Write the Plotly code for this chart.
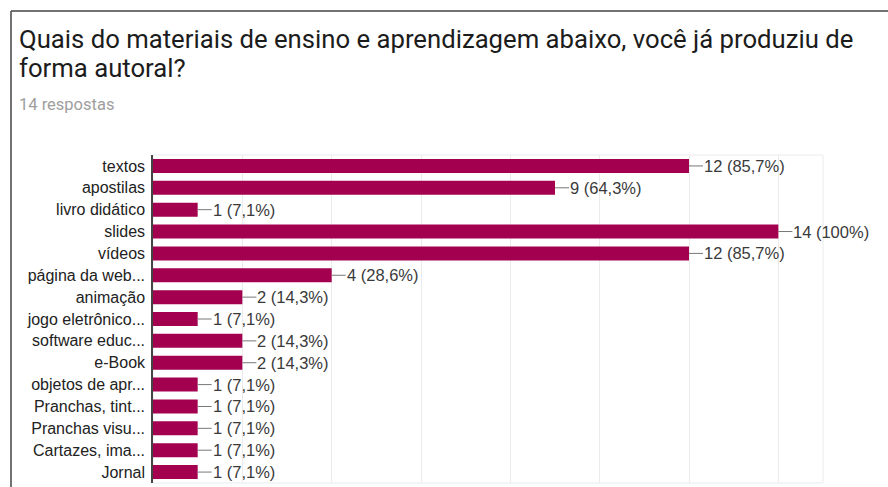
import plotly.graph_objects as go

categories = ["textos", "apostilas", "livro didático", "slides", "vídeos",
              "página da web...", "animação", "jogo eletrônico...", "software educ...",
              "e-Book", "objetos de apr...", "Pranchas, tint...", "Pranchas visu...",
              "Cartazes, ima...", "Jornal"]
counts = [12, 9, 1, 14, 12, 4, 2, 1, 2, 2, 1, 1, 1, 1, 1]
total_responses = 14
title_lines = ["Quais do materiais de ensino e aprendizagem abaixo, você já produziu de",
               "forma autoral?"]
subtitle_text = "14 respostas"

W, H = 888, 487
L, R, T, B = 153, 823, 155, 483

def px_x(p):
    return (p - L) / (R - L)

def px_y(p):
    return (B - p) / (B - T)

bar_color = "#a3004f"

fig = go.Figure()
fig.add_trace(go.Bar(
    x=counts, y=categories, orientation="h",
    marker=dict(color=bar_color, line=dict(width=0)),
    hoverinfo="skip",
))

annotations = []
for c, v in zip(categories, counts):
    pct = f"{100 * v / total_responses:.1f}".replace(".", ",")
    if pct.endswith(",0"):
        pct = pct[:-2]
    annotations.append(dict(
        x=v, y=c, xref="x", yref="y",
        text=f"{v} ({pct}%)",
        showarrow=True, arrowhead=0, arrowwidth=1, arrowcolor="#777",
        ax=14, ay=0, xanchor="left", yanchor="middle",
        font=dict(family="Arial", size=16.5, color="#3a3a3a"),
        borderpad=0,
    ))

for line, ypx in zip(title_lines, [39, 68]):
    annotations.append(dict(
        x=px_x(17), y=px_y(ypx), xref="paper", yref="paper",
        xanchor="left", yanchor="middle", showarrow=False,
        text=line,
        font=dict(family="Roboto", size=25.7, color="#1c1c1c"),
    ))

annotations.append(dict(
    x=px_x(17), y=px_y(104), xref="paper", yref="paper",
    xanchor="left", yanchor="middle", showarrow=False,
    text=subtitle_text,
    font=dict(family="Roboto", size=16.5, color="#9e9e9e"),
))

fig.update_layout(
    width=W, height=H,
    margin=dict(l=L, r=W - R, t=T, b=H - B, pad=0),
    paper_bgcolor="white", plot_bgcolor="white",
    showlegend=False,
    bargap=0.36,
    xaxis=dict(
        range=[0, 15], dtick=2, tick0=0, showticklabels=False,
        showgrid=True, gridcolor="#ebebeb", gridwidth=1,
        zeroline=False, showline=False, fixedrange=True,
    ),
    yaxis=dict(
        autorange="reversed", showgrid=False, zeroline=False,
        showline=True, linecolor="#444", linewidth=1.5,
        ticks="", ticklabelstandoff=3,
        tickfont=dict(family="Arial", size=16, color="#222"),
    ),
    annotations=annotations,
    shapes=[
        dict(type="rect", xref="paper", yref="paper", x0=0, x1=1, y0=0, y1=1,
             line=dict(color="#ebebeb", width=1), layer="below"),
        dict(type="line", xref="paper", yref="paper",
             x0=px_x(11), x1=px_x(W + 5), y0=px_y(11), y1=px_y(11),
             line=dict(color="#444", width=1.5)),
        dict(type="line", xref="paper", yref="paper",
             x0=px_x(11), x1=px_x(11), y0=px_y(11), y1=px_y(H + 5),
             line=dict(color="#444", width=1.5)),
    ],
)

fig.write_html("out.html")
